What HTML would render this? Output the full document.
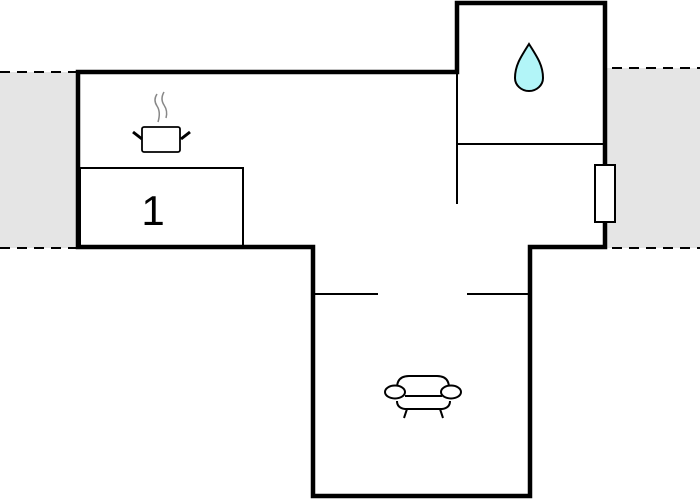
<!DOCTYPE html>
<html><head><style>body{margin:0;background:#fff}svg{display:block}</style></head><body>
<svg width="700" height="500" viewBox="0 0 700 500" xmlns="http://www.w3.org/2000/svg">
<rect x="0" y="72" width="78" height="176" fill="#e5e5e5"/>
<rect x="607" y="68" width="93" height="180" fill="#e5e5e5"/>
<g stroke="#000" stroke-width="2" stroke-dasharray="10,7" fill="none">
<line x1="0" y1="72" x2="78" y2="72"/><line x1="0" y1="248" x2="78" y2="248"/>
<line x1="612" y1="68" x2="700" y2="68"/><line x1="612" y1="248" x2="700" y2="248"/>
</g>
<g stroke="#000" fill="none">
<path d="M78 72 H457 V3 H605 V247 H530 V496 H313 V247 H78 Z" stroke-width="4.5"/>
<line x1="457" y1="144" x2="605" y2="144" stroke-width="2"/>
<line x1="457" y1="72" x2="457" y2="204" stroke-width="2"/>
<rect x="80" y="168" width="163" height="79" stroke-width="2"/>
<line x1="315" y1="294" x2="378" y2="294" stroke-width="2"/>
<line x1="467" y1="294" x2="528" y2="294" stroke-width="2"/>
<rect x="595" y="165" width="20" height="57" fill="#fff" stroke-width="2"/>
<!-- pot -->
<rect x="142" y="127" width="38" height="25" rx="2" stroke-width="1.8"/>
<line x1="133" y1="132" x2="142" y2="139" stroke-width="3"/>
<line x1="190" y1="132" x2="181" y2="139" stroke-width="3"/>
<path d="M157 94 Q153 100 157 106 Q161 112 158 122 M164 92 Q160 99 164 105 Q168 111 166 118" stroke="#888" stroke-width="1.5"/>
<!-- drop -->
<path d="M529 44 C520 58 515 66 515 78 A14 13 0 0 0 543 78 C543 66 538 58 529 44 Z" fill="#b2f5f8" stroke-width="2"/>
<!-- sofa -->
<path d="M397 388 Q397 376 409 376 H437 Q449 376 449 388" stroke-width="2"/>
<line x1="405" y1="396" x2="442" y2="396" stroke-width="2"/>
<path d="M397 401 Q397 408 405 409 H442 Q450 408 450 401" stroke-width="2"/>
<ellipse cx="395" cy="392" rx="10" ry="6.5" fill="#fff" stroke-width="2"/>
<ellipse cx="451" cy="392" rx="10" ry="6.5" fill="#fff" stroke-width="2"/>
<line x1="407" y1="409" x2="404" y2="418" stroke-width="2"/>
<line x1="440" y1="409" x2="443" y2="418" stroke-width="2"/>
</g>
<text x="153" y="225" font-family="Liberation Sans, sans-serif" font-size="42" text-anchor="middle">1</text>
</svg>
</body></html>
